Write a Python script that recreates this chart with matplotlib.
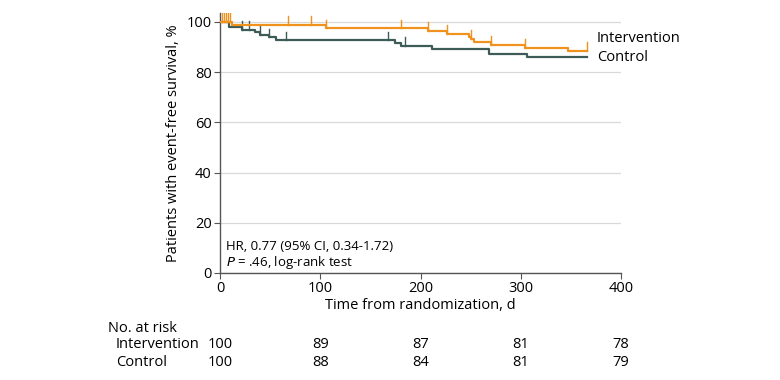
import numpy as np
import matplotlib.pyplot as plt

plt.rcParams['font.family'] = ['Open Sans', 'DejaVu Sans']

# Kaplan-Meier step data (day, survival %)
int_days = [0, 12, 106, 207, 226, 248, 250, 253, 270, 304, 347, 366]
int_surv = [100, 98.7, 97.4, 96.4, 95.1, 93.9, 93.1, 92.0, 90.7, 89.5, 88.4, 88.4]
int_cens = [2, 4, 6, 8, 10, 68, 91, 106, 181, 207, 226, 250, 270, 304, 366]

ctl_days = [0, 9, 22, 35, 40, 49, 56, 175, 181, 211, 268, 306, 366]
ctl_surv = [100, 97.8, 96.9, 96.0, 94.8, 93.8, 92.6, 91.7, 90.3, 89.1, 87.1, 86.1, 86.1]
ctl_cens = [22, 29, 40, 49, 66, 168, 185]

risk_times = [0, 100, 200, 300, 400]
risk_int = [100, 89, 87, 81, 78]
risk_ctl = [100, 88, 84, 81, 79]

c_int = '#f0921e'
c_ctl = '#3d5c58'
fs = 10.5

fig = plt.figure(figsize=(7.8, 3.8), dpi=100)
ax = fig.add_axes([220 / 780, 1 - 273 / 380, 401 / 780, 260 / 380])


def surv_at(days, surv, t):
    i = np.searchsorted(days, t, side='right') - 1
    return surv[i]


for days, surv, cens, col in [(ctl_days, ctl_surv, ctl_cens, c_ctl),
                              (int_days, int_surv, int_cens, c_int)]:
    ax.step(days, surv, where='post', color=col, lw=1.6, zorder=3)
    for t in cens:
        y = surv_at(days, surv, t)
        ax.plot([t, t], [y, y + 3.5], color=col, lw=1.0, zorder=3)

ax.set_xlim(0, 400)
ax.set_ylim(0, 103.5)
ax.set_xticks(risk_times)
ax.set_yticks([0, 20, 40, 60, 80, 100])
ax.grid(axis='y', color='#d9d9d9', lw=0.9)
ax.set_axisbelow(True)
for s in ['top', 'right']:
    ax.spines[s].set_visible(False)
for s in ['left', 'bottom']:
    ax.spines[s].set_color('#555555')
    ax.spines[s].set_linewidth(1.0)
ax.tick_params(colors='#555555', labelcolor='black', labelsize=fs, length=4, pad=2)
ax.set_xlabel('Time from randomization, d', fontsize=fs, labelpad=1)
ax.set_ylabel('Patients with event-free survival, %', fontsize=fs, labelpad=4)

ax.text(376, 93.5, 'Intervention', fontsize=fs, va='center', clip_on=False)
ax.text(376, 85.8, 'Control', fontsize=fs, va='center', clip_on=False)

ax.text(6, 10.5, 'HR, 0.77 (95% CI, 0.34-1.72)', fontsize=9.5, va='center')
ax.text(6, 4.2, r'$\it{P}$ = .46, log-rank test', fontsize=9.5, va='center')

# number at risk table
fig.text(108 / 780, 1 - 328 / 380, 'No. at risk', fontsize=fs, va='center')
fig.text(116 / 780, 1 - 345 / 380, 'Intervention', fontsize=fs, va='center')
fig.text(116 / 780, 1 - 362 / 380, 'Control', fontsize=fs, va='center')
for t, a, b in zip(risk_times, risk_int, risk_ctl):
    xf = (220 + t * 401 / 400) / 780
    fig.text(xf, 1 - 345 / 380, str(a), fontsize=fs, va='center', ha='center')
    fig.text(xf, 1 - 362 / 380, str(b), fontsize=fs, va='center', ha='center')

fig.savefig('out.png', dpi=100)
